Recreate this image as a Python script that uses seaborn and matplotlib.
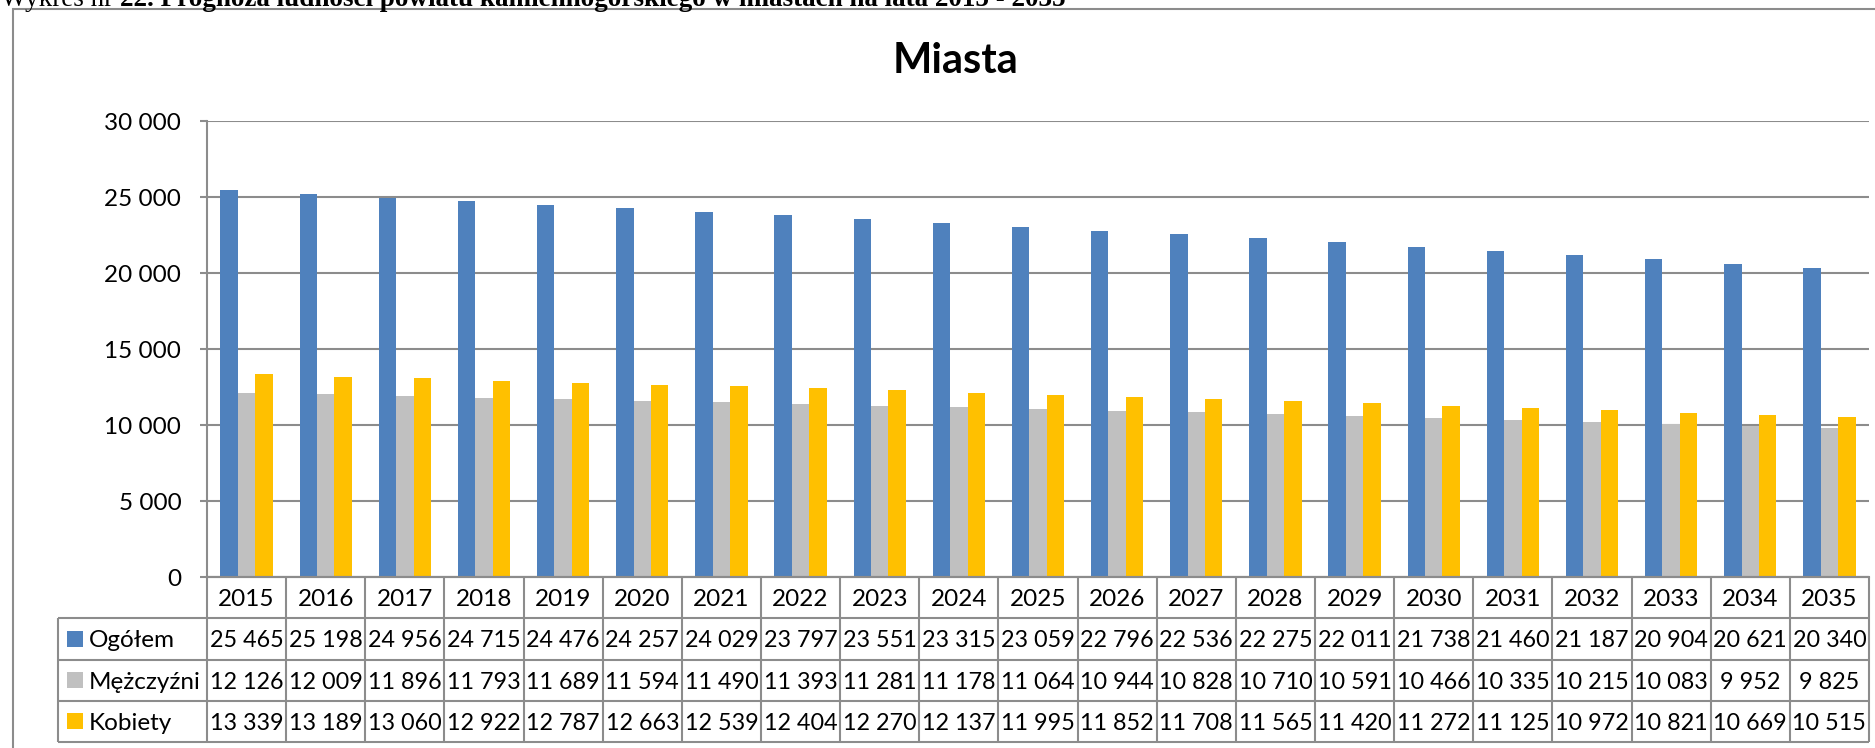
import numpy as np
import pandas as pd
import matplotlib
matplotlib.use("Agg")
import matplotlib.pyplot as plt
from matplotlib.patches import Rectangle
import seaborn as sns

# Dane z wykresu (prognoza ludności w miastach)
years = ['2015', '2016', '2017', '2018', '2019', '2020', '2021', '2022', '2023', '2024',
         '2025', '2026', '2027', '2028', '2029', '2030', '2031', '2032', '2033', '2034', '2035']
series_names = ['Ogółem', 'Mężczyźni', 'Kobiety']
ogolem = [25465, 25198, 24956, 24715, 24476, 24257, 24029, 23797, 23551, 23315,
          23059, 22796, 22536, 22275, 22011, 21738, 21460, 21187, 20904, 20621, 20340]
mezczyzni = [12126, 12009, 11896, 11793, 11689, 11594, 11490, 11393, 11281, 11178,
             11064, 10944, 10828, 10710, 10591, 10466, 10335, 10215, 10083, 9952, 9825]
kobiety = [13339, 13189, 13060, 12922, 12787, 12663, 12539, 12404, 12270, 12137,
           11995, 11852, 11708, 11565, 11420, 11272, 11125, 10972, 10821, 10669, 10515]
colors = ['#4F81BD', '#C0C0C0', '#FFC000']
yticks = [0, 5000, 10000, 15000, 20000, 25000, 30000]

df = pd.DataFrame({
    'rok': years * 3,
    'seria': np.repeat(series_names, len(years)),
    'liczba': ogolem + mezczyzni + kobiety,
})


def fmt(v):
    return f"{v:,}".replace(",", " ")


sns.set_theme(style='white')
plt.rcParams['font.family'] = ['Lato', 'DejaVu Sans']
grid_col = '#8c8c8c'

W, H = 1875, 748
fig = plt.figure(figsize=(W / 100, H / 100), dpi=100)

# Wykres słupkowy
ax = fig.add_axes([207 / W, 1 - 577 / H, (1869 - 207) / W, (577 - 121) / H])
sns.barplot(data=df, x='rok', y='liczba', hue='seria', palette=colors, width=0.66,
            saturation=1, linewidth=0, legend=False, ax=ax)
ax.set_xlim(-0.5, len(years) - 0.5)
ax.set_ylim(0, 30000)
ax.set_yticks(yticks)
ax.set_yticklabels([fmt(t) for t in yticks])
ax.set_xticks([])
ax.set_xlabel('')
ax.set_ylabel('')
ax.yaxis.grid(True, color=grid_col, lw=1.5)
ax.set_axisbelow(True)
for s in ['top', 'right']:
    ax.spines[s].set_visible(False)
for s in ['left', 'bottom']:
    ax.spines[s].set_color(grid_col)
    ax.spines[s].set_linewidth(1.5)
ax.tick_params(axis='y', left=True, length=5, width=1.5, color=grid_col, pad=13.5,
               labelsize=17.5, labelcolor='black')

# Tabela danych pod wykresem
col_w = (1869 - 207) / len(years)
left_edge = -0.5 - (207 - 58) / col_w
n = len(years)
tab = fig.add_axes([58 / W, 1 - 742 / H, (1869 - 58) / W, (742 - 577) / H])
tab.set_xlim(left_edge, n - 0.5)
tab.set_ylim(4, 0)
tab.axis('off')
line_kw = dict(color=grid_col, lw=1.5, clip_on=False)
tab.hlines(0, -0.5, n - 0.5, **line_kw)
tab.hlines([1, 2, 3, 4], left_edge, n - 0.5, **line_kw)
tab.vlines(np.arange(n + 1) - 0.5, 0, 4, **line_kw)
tab.vlines(left_edge, 1, 4, **line_kw)

for i, y in enumerate(years):
    tab.text(i, 0.5, y, ha='center', va='center_baseline', fontsize=17.5, color='black')
for r, (name, vals, c) in enumerate(zip(series_names, [ogolem, mezczyzni, kobiety], colors), start=1):
    tab.scatter([left_edge + 0.215], [r + 0.5], marker='s', s=130, color=c,
                linewidths=0, clip_on=False)
    tab.text(left_edge + 0.39, r + 0.5, name, ha='left', va='center_baseline',
             fontsize=17.5, color='black')
    for i, v in enumerate(vals):
        tab.text(i, r + 0.5, fmt(v), ha='center', va='center_baseline',
                 fontsize=16.8, color='black')

# Tytuł wykresu
fig.text(956 / W, 1 - 73 / H, 'Miasta', ha='center', va='baseline',
         fontsize=30, fontweight='bold', color='black')

# Ramka obszaru wykresu
fig.add_artist(Rectangle((13 / W, -0.5), 2, (H - 9) / H + 0.5, transform=fig.transFigure,
                         fill=False, ec=grid_col, lw=1.5))

# Ucięty nagłówek nad ramką
base_y = 1 - 6 / H
t1 = fig.text(1 / W, base_y, 'Wykres nr ', family=['Liberation Serif'], fontsize=19.5,
              va='baseline', color='black')
fig.canvas.draw()
bb = t1.get_window_extent()
fig.text(bb.x1 / W, base_y, '22. Prognoza ludności powiatu kamiennogórskiego w miastach na lata 2015 - 2035',
         family=['Liberation Serif'], fontsize=19.5, fontweight='bold', va='baseline', color='black')

fig.savefig('out.png', dpi=100)
